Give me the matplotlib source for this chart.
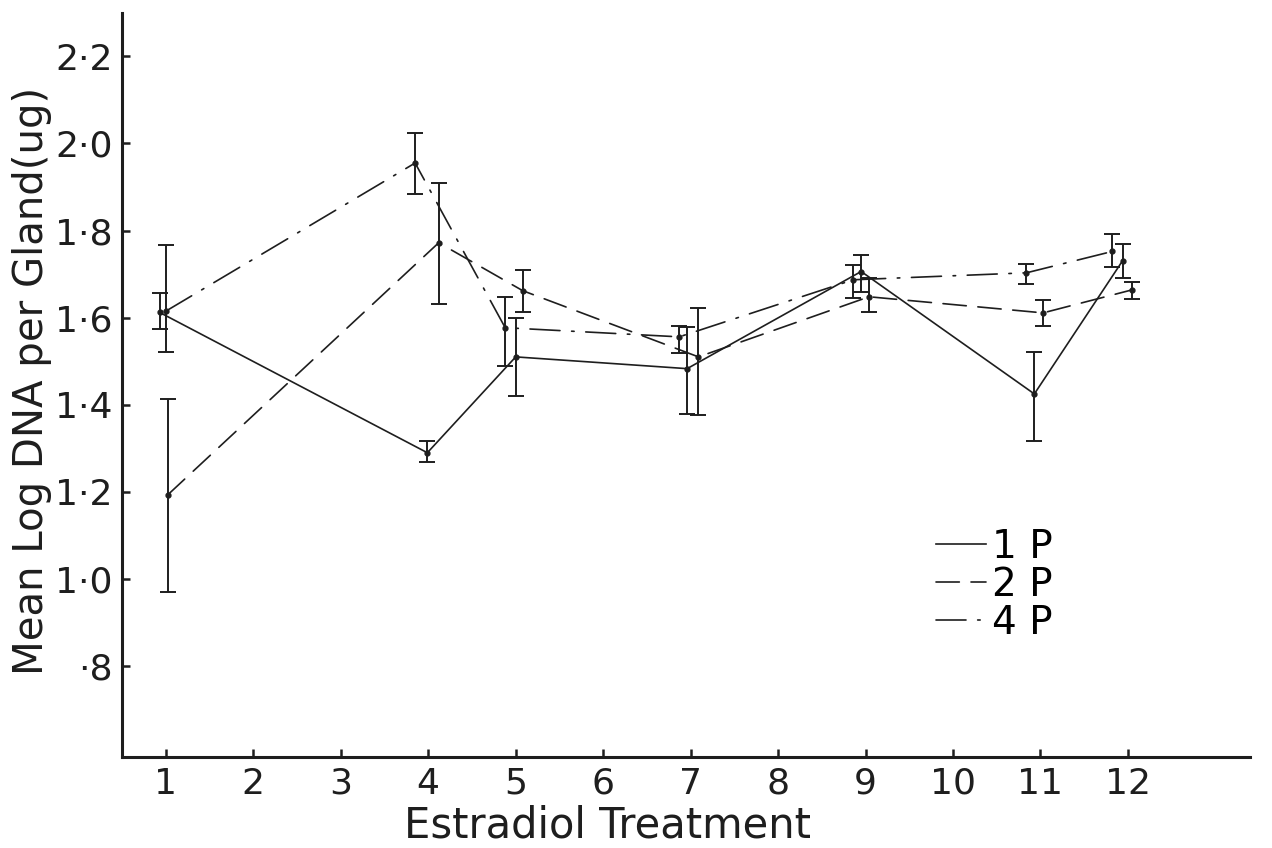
import numpy as np
import matplotlib.pyplot as plt

plt.rcParams['font.family'] = ['DejaVu Sans']

# treatment positions as drawn (points sit slightly off the tick)
x_1p = [0.93, 3.99, 5.00, 6.96, 8.95, 10.93, 11.94]
x_2p = [1.02, 4.12, 5.08, 7.09, 9.04, 11.03, 12.05]
x_4p = [1.00, 3.85, 4.88, 6.87, 8.86, 10.84, 11.82]

# mean log DNA with lower / upper ends of the bars
mean_1p = [1.612, 1.290, 1.510, 1.483, 1.706, 1.425, 1.731]
low_1p = [1.575, 1.269, 1.420, 1.380, 1.660, 1.317, 1.692]
high_1p = [1.657, 1.317, 1.600, 1.578, 1.745, 1.522, 1.770]

mean_2p = [1.193, 1.772, 1.662, 1.510, 1.648, 1.611, 1.664]
low_2p = [0.970, 1.632, 1.614, 1.377, 1.612, 1.580, 1.644]
high_2p = [1.414, 1.910, 1.710, 1.623, 1.690, 1.641, 1.683]

mean_4p = [1.615, 1.955, 1.577, 1.556, 1.687, 1.703, 1.752]
low_4p = [1.522, 1.883, 1.490, 1.520, 1.645, 1.678, 1.717]
high_4p = [1.766, 2.023, 1.648, 1.580, 1.720, 1.724, 1.793]

xticks = list(range(1, 13))
yticks = [0.8, 1.0, 1.2, 1.4, 1.6, 1.8, 2.0, 2.2]
ytick_labels = ['·8', '1·0', '1·2', '1·4', '1·6', '1·8', '2·0', '2·2']

ink = '#1e1e1e'

fig = plt.figure(figsize=(12.72, 8.48), dpi=100)
ax = fig.add_axes([0.096, 0.107, 0.887, 0.878])

series = [
    ('1 P', x_1p, mean_1p, low_1p, high_1p, '-'),
    ('2 P', x_2p, mean_2p, low_2p, high_2p, (0, (14, 7))),
    ('4 P', x_4p, mean_4p, low_4p, high_4p, (0, (18, 7, 1.5, 7))),
]

for name, xs, m, lo, hi, ls in series:
    m = np.array(m)
    yerr = [m - np.array(lo), np.array(hi) - m]
    ax.errorbar(xs, m, yerr=yerr, fmt='none', ecolor=ink, elinewidth=1.4,
                capsize=6, capthick=1.4)
    ax.plot(xs, m, color=ink, lw=1.2, ls=ls, marker='o', ms=3.5,
            dash_capstyle='round', label=name)

ax.set_xlim(0.5, 13.4)
ax.set_ylim(0.591, 2.30)
ax.set_xticks(xticks)
ax.set_yticks(yticks)
ax.set_yticklabels(ytick_labels)

for s in ['top', 'right']:
    ax.spines[s].set_visible(False)
for s in ['left', 'bottom']:
    ax.spines[s].set_linewidth(2.2)
    ax.spines[s].set_color(ink)

ax.tick_params(direction='in', length=6, width=1.8, colors=ink,
               labelsize=26, pad=7)

ax.set_xlabel('Estradiol Treatment', fontsize=30, color=ink)
ax.xaxis.set_label_coords(0.43, -0.064)
ax.set_ylabel('Mean Log DNA per Gland(ug)', fontsize=29, color=ink)
ax.yaxis.set_label_coords(-0.062, 0.505)

ax.legend(frameon=False, fontsize=28, loc='upper left',
          bbox_to_anchor=(0.69, 0.355), handlelength=1.3,
          handletextpad=0.15, labelspacing=0.0, markerscale=0)

plt.savefig('out.png', dpi=100)
